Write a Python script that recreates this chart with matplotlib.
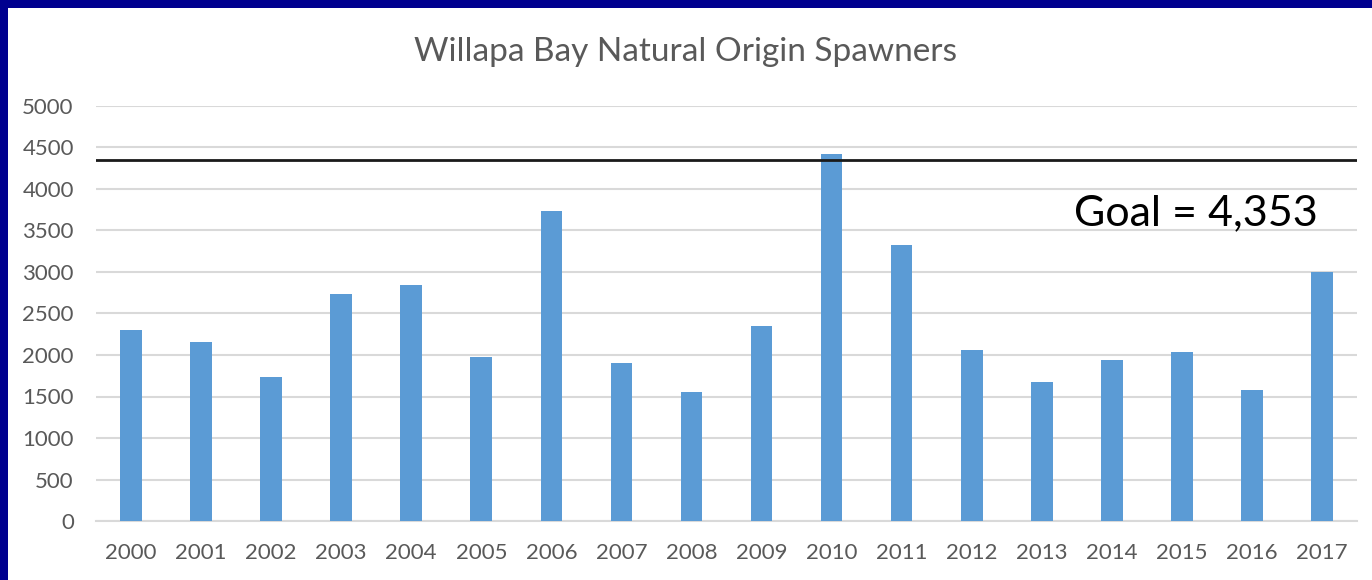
import matplotlib
matplotlib.use("Agg")
import matplotlib.pyplot as plt
from matplotlib.patches import Rectangle

years = ["2000", "2001", "2002", "2003", "2004", "2005", "2006", "2007", "2008",
         "2009", "2010", "2011", "2012", "2013", "2014", "2015", "2016", "2017"]
spawners = [2300, 2160, 1730, 2730, 2840, 1980, 3740, 1900, 1550,
            2350, 4420, 3330, 2060, 1670, 1940, 2040, 1580, 3000]
goal = 4353
yticks = [0, 500, 1000, 1500, 2000, 2500, 3000, 3500, 4000, 4500, 5000]

plt.rcParams['font.family'] = ['Lato', 'DejaVu Sans']

fig = plt.figure(figsize=(13.72, 5.8), dpi=100)
fig.patch.set_facecolor("white")
# navy frame (top and left)
fig.patches.append(Rectangle((0, 1 - 8 / 580), 1, 8 / 580, transform=fig.transFigure,
                             facecolor="#00008F", edgecolor="none", zorder=0))
fig.patches.append(Rectangle((0, 0), 8 / 1372, 1, transform=fig.transFigure,
                             facecolor="#00008F", edgecolor="none", zorder=0))

ax = fig.add_axes([96 / 1372, 1 - 521 / 580, 1261 / 1372, (521 - 106) / 580])
x = list(range(len(years)))
ax.bar(x, spawners, width=0.31, color="#5B9BD5", zorder=3)
ax.axhline(goal, color="#1a1a1a", lw=2, zorder=4)

ax.set_xlim(-0.5, len(years) - 0.5)
ax.set_ylim(0, 5000)
ax.set_yticks(yticks)
ax.set_xticks(x)
ax.set_xticklabels(years)
ax.tick_params(axis="both", length=0, labelsize=16, labelcolor="#595959")
ax.tick_params(axis="x", pad=16)
ax.tick_params(axis="y", pad=16)
ax.grid(axis="y", color="#D9D9D9", lw=1.5, zorder=0)
for s in ["top", "right", "left"]:
    ax.spines[s].set_visible(False)
ax.spines["bottom"].set_color("#D9D9D9")
ax.spines["bottom"].set_linewidth(1.5)

ax.text(0.969, 3711, "Goal = 4,353", transform=ax.get_yaxis_transform(),
        ha="right", va="center", fontsize=31, color="black")

fig.text(0.5, 1 - 52 / 580, "Willapa Bay Natural Origin Spawners", ha="center",
         va="center", fontsize=24, color="#595959")

fig.savefig("out.png", dpi=100)
